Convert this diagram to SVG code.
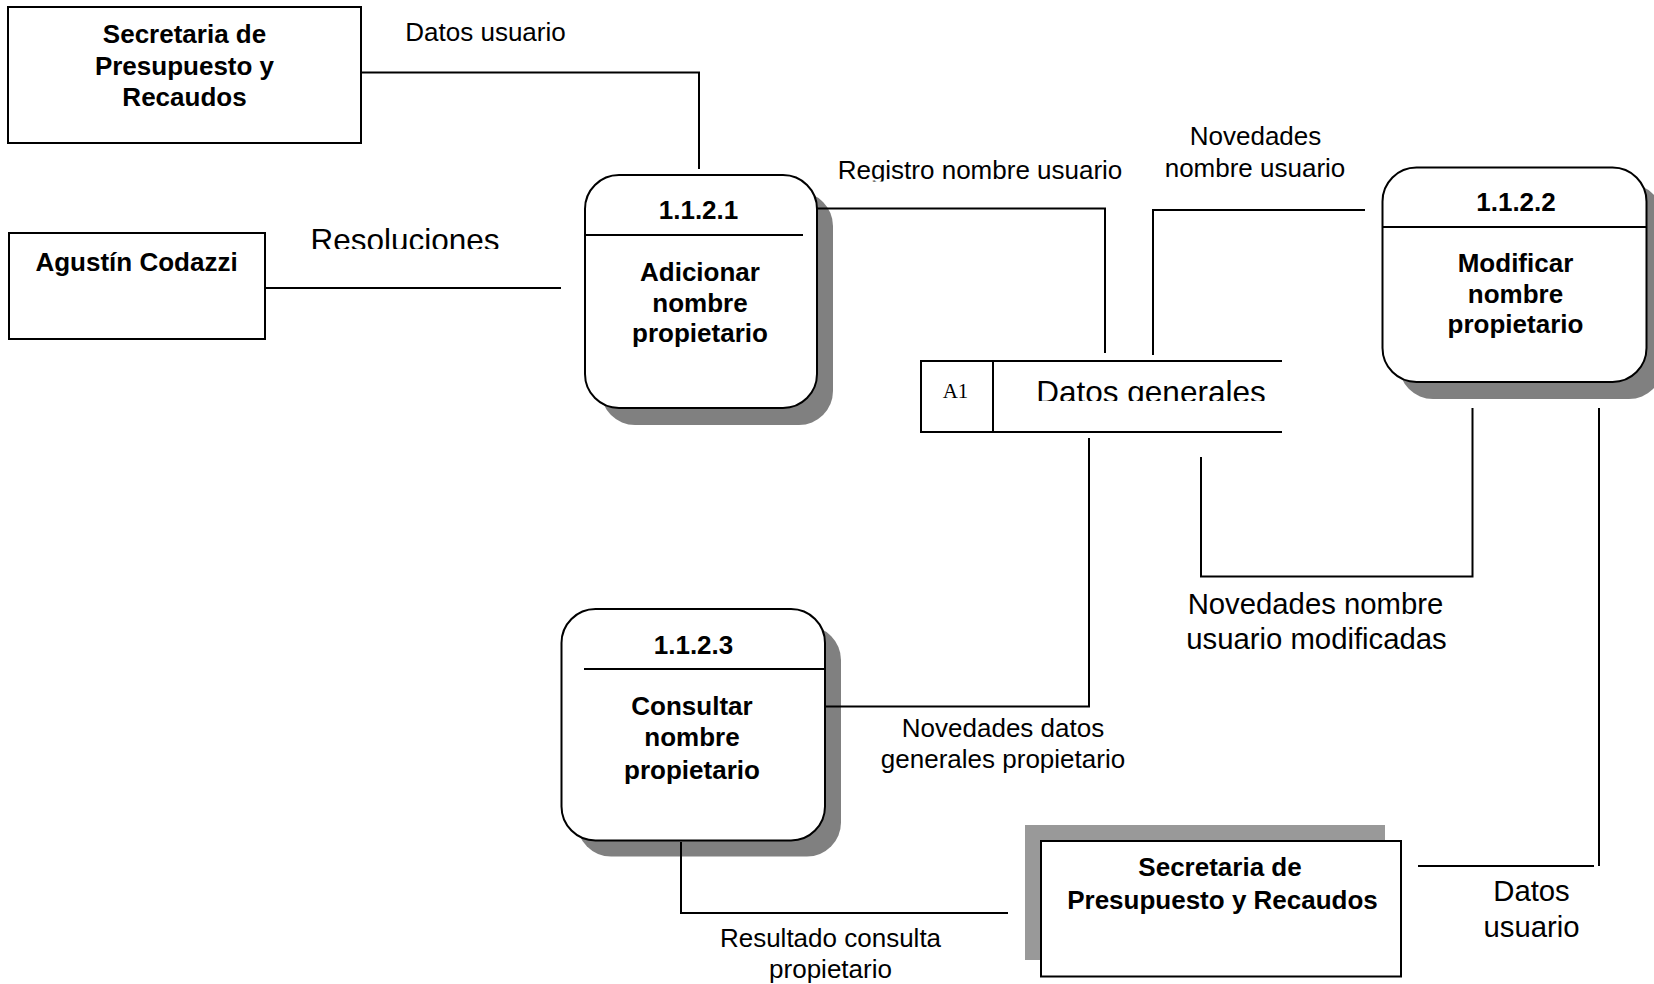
<svg xmlns="http://www.w3.org/2000/svg" width="1654" height="984" viewBox="0 0 1654 984">
  <style>
    .box { fill: #ffffff; stroke: #000000; stroke-width: 2; }
    .proc { fill: #ffffff; stroke: #000000; stroke-width: 2; }
    .shadow { fill: #808080; stroke: none; }
    .shadow-lt { fill: #999999; stroke: none; }
    .rule { stroke: #000000; stroke-width: 2; fill: none; }
    .flow { fill: none; stroke: #000000; stroke-width: 2; }
    text { font-family: "Liberation Sans", Arial, sans-serif; fill: #000000; text-anchor: middle; }
    .b { font-size: 26px; font-weight: bold; }
    .s { font-size: 26px; }
    .m { font-size: 29.3px; }
    .l { font-size: 31.5px; }
    .id { font-family: "Liberation Serif", "Times New Roman", serif; font-size: 21px; }
  </style>
  <defs>
    <clipPath id="clip-resol"><rect x="290" y="200" width="240" height="49"/></clipPath>
    <clipPath id="clip-registro"><rect x="820" y="150" width="320" height="31.5"/></clipPath>
    <clipPath id="clip-store"><rect x="1000" y="365" width="280" height="36"/></clipPath>
  </defs>

  <!-- external entity: Secretaria (top left) -->
  <g id="ent-secretaria-top">
    <rect class="box" x="8" y="7" width="353" height="136"/>
    <text class="b" x="184.5" y="43">Secretaria de</text>
    <text class="b" x="184.5" y="74.5">Presupuesto y</text>
    <text class="b" x="184.5" y="106">Recaudos</text>
  </g>

  <!-- external entity: Agustín Codazzi -->
  <g id="ent-codazzi">
    <rect class="box" x="9" y="233" width="256" height="106"/>
    <text class="b" x="136.5" y="271">Agustín Codazzi</text>
  </g>

  <!-- process 1.1.2.1 -->
  <g id="proc-1121">
    <rect class="shadow" x="601" y="192" width="232" height="233" rx="34" ry="34"/>
    <rect class="proc" x="585" y="175" width="232" height="233" rx="34" ry="34"/>
    <line class="rule" x1="585" y1="235" x2="803" y2="235"/>
    <text class="b" x="698.5" y="218.5">1.1.2.1</text>
    <text class="b" x="700" y="281">Adicionar</text>
    <text class="b" x="700" y="311.5">nombre</text>
    <text class="b" x="700" y="342">propietario</text>
  </g>

  <!-- process 1.1.2.2 -->
  <g id="proc-1122">
    <rect class="shadow" x="1399" y="184" width="264" height="215" rx="34" ry="34"/>
    <rect class="proc" x="1382.5" y="167.5" width="264" height="214.5" rx="34" ry="34"/>
    <line class="rule" x1="1382.5" y1="227" x2="1646.5" y2="227"/>
    <text class="b" x="1516" y="210.5">1.1.2.2</text>
    <text class="b" x="1515.5" y="271.5">Modificar</text>
    <text class="b" x="1515.5" y="302.5">nombre</text>
    <text class="b" x="1515.5" y="333">propietario</text>
  </g>

  <!-- process 1.1.2.3 -->
  <g id="proc-1123">
    <rect class="shadow" x="577" y="626" width="264" height="230.5" rx="34" ry="34"/>
    <rect class="proc" x="561.5" y="609" width="263.5" height="231.5" rx="34" ry="34"/>
    <line class="rule" x1="584" y1="669" x2="825" y2="669"/>
    <text class="b" x="693.5" y="653.5">1.1.2.3</text>
    <text class="b" x="692" y="715">Consultar</text>
    <text class="b" x="692" y="745.5">nombre</text>
    <text class="b" x="692" y="778.5">propietario</text>
  </g>

  <!-- data store A1 -->
  <g id="store-a1">
    <path class="rule" d="M1282 361 H921 V432 H1282 M993 361 V432"/>
    <text class="id" x="955.5" y="397.5">A1</text>
    <text class="l" x="1151" y="403" clip-path="url(#clip-store)">Datos generales</text>
  </g>

  <!-- external entity: Secretaria (bottom) -->
  <g id="ent-secretaria-bottom">
    <rect class="shadow-lt" x="1025" y="825" width="360" height="135"/>
    <rect class="box" x="1041" y="841" width="360" height="135.5"/>
    <text class="b" x="1220" y="875.5">Secretaria de</text>
    <text class="b" x="1222.5" y="909">Presupuesto y Recaudos</text>
  </g>

  <!-- data flows -->
  <g id="flows">
    <path class="flow" d="M361 72.5 H699 V169"/>
    <path class="flow" d="M265 288 H561"/>
    <path class="flow" d="M817 208.5 H1105 V353"/>
    <path class="flow" d="M1365 210 H1153 V355"/>
    <path class="flow" d="M1089 438 V706.5 H826"/>
    <path class="flow" d="M1472.5 408 V576.5 H1201 V457"/>
    <path class="flow" d="M1599 408 V866"/>
    <path class="flow" d="M1418 866 H1594"/>
    <path class="flow" d="M681 842 V913 H1008"/>

    <text class="s" x="485.5" y="41">Datos usuario</text>
    <text class="l" x="405" y="251" clip-path="url(#clip-resol)">Resoluciones</text>
    <text class="s" x="980" y="178.5" clip-path="url(#clip-registro)">Registro nombre usuario</text>
    <text class="s" x="1255.5" y="145">Novedades</text>
    <text class="s" x="1255" y="177">nombre usuario</text>
    <text class="m" x="1315.5" y="613.5">Novedades nombre</text>
    <text class="m" x="1316.5" y="648.5">usuario modificadas</text>
    <text class="s" x="1003" y="737">Novedades datos</text>
    <text class="s" x="1003" y="768">generales propietario</text>
    <text class="s" x="830.5" y="946.5">Resultado consulta</text>
    <text class="s" x="830.5" y="977.5">propietario</text>
    <text class="m" x="1531.5" y="901">Datos</text>
    <text class="m" x="1531.5" y="936.5">usuario</text>
  </g>
</svg>
